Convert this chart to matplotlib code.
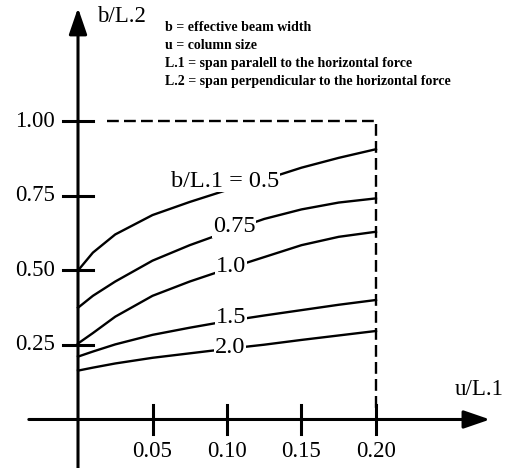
import matplotlib
matplotlib.use("Agg")
import matplotlib.pyplot as plt

plt.rcParams['font.family'] = ['Liberation Serif', 'DejaVu Serif']

# u/L.1 values where the curves were read
u_L1 = [0, 0.01, 0.025, 0.05, 0.075, 0.1, 0.125, 0.15, 0.175, 0.2]

# b/L.2 for each b/L.1
b_05 = [0.50, 0.56, 0.621, 0.686, 0.730, 0.770, 0.805, 0.845, 0.878, 0.907]
b_075 = [0.375, 0.415, 0.463, 0.533, 0.585, 0.630, 0.673, 0.705, 0.728, 0.742]
b_10 = [0.255, 0.29, 0.345, 0.415, 0.463, 0.505, 0.545, 0.585, 0.613, 0.630]
b_15 = [0.211, 0.228, 0.252, 0.284, 0.308, 0.330, 0.349, 0.367, 0.385, 0.401]
b_20 = [0.164, 0.174, 0.188, 0.207, 0.222, 0.237, 0.251, 0.267, 0.282, 0.297]

curves = [b_05, b_075, b_10, b_15, b_20]
curve_labels = ['b/L.1 = 0.5', '0.75', '1.0', '1.5', '2.0']
label_pos = [(0.099, 0.80), (0.1047, 0.646), (0.1027, 0.512), (0.1027, 0.341), (0.102, 0.240)]

xticks = [0.05, 0.10, 0.15, 0.20]
yticks = [0.25, 0.50, 0.75, 1.00]

notes = ['b = effective beam width',
         'u = column size',
         'L.1 = span paralell to the horizontal force',
         'L.2 = span perpendicular to the horizontal force']

fig = plt.figure(figsize=(5.06, 4.68), dpi=100)
ax = fig.add_axes([0, 0, 1, 1])
ax.set_xlim(-0.05235, 0.28725)
ax.set_ylim(-0.1628, 1.4077)
ax.axis('off')

# axes with arrows
arrow = dict(arrowstyle='-|>,head_length=1.6,head_width=0.55', lw=2.2,
             color='black', shrinkA=0, shrinkB=0, mutation_scale=10)
ax.annotate('', xy=(0.2765, 0), xytext=(-0.033, 0), arrowprops=arrow)
ax.annotate('', xy=(0, 1.381), xytext=(0, -0.17), arrowprops=arrow)

for t in xticks:
    ax.plot([t, t], [-0.049, 0.049], color='black', lw=2.2)
    ax.text(t, -0.109, f'{t:.2f}', ha='center', va='center', fontsize=16.5)
for t in yticks:
    ax.plot([-0.01, 0.01], [t, t], color='black', lw=2.2)
    ax.text(-0.0154, t, f'{t:.2f}', ha='right', va='center', fontsize=16.5)

# dashed limit
ax.plot([0.0195, 0.2, 0.2], [1.0, 1.0, 0.04], color='black', lw=1.7,
        dashes=(5, 2.2))

for vals, lab, (lx, ly) in zip(curves, curve_labels, label_pos):
    ax.plot(u_L1, vals, color='black', lw=1.7)
    ax.text(lx, ly, lab, ha='center', va='center', fontsize=17.5,
            bbox=dict(fc='white', ec='none', pad=0.3))

ax.text(0.01275, 1.3507, 'b/L.2', ha='left', va='center', fontsize=16.5)
ax.text(0.253, 0.099, 'u/L.1', ha='left', va='center', fontsize=16.5)

for i, s in enumerate(notes):
    ax.text(0.0584, 1.317 - i * 0.0613, s, ha='left', va='center',
            fontsize=10, fontweight='bold')

fig.savefig('out.png', dpi=100)
